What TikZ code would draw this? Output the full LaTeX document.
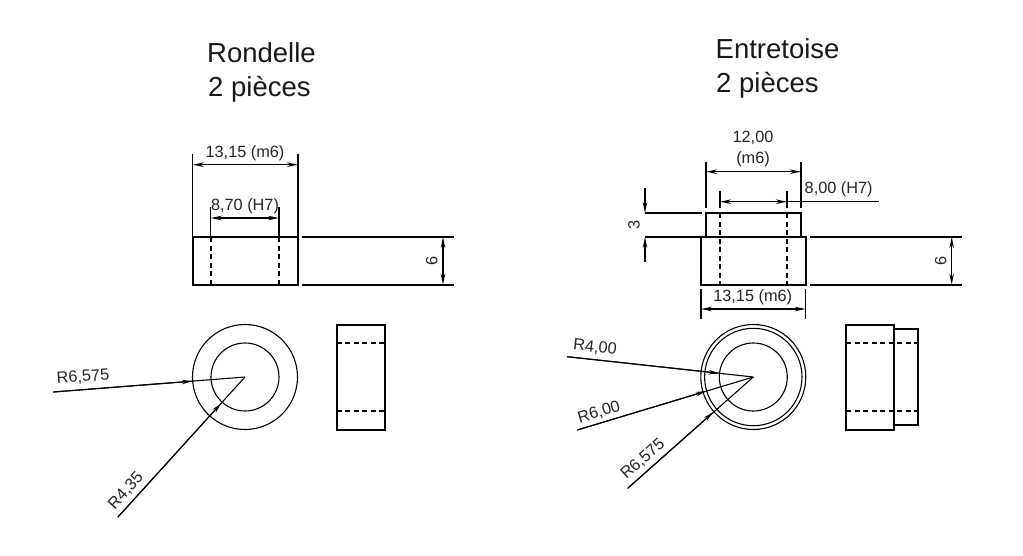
\documentclass[tikz,border=0pt]{standalone}
\usepackage{fontspec}
\setmainfont{Liberation Sans}
\usetikzlibrary{arrows.meta}
\tikzset{
  part/.style={line width=1.7pt,black},
  ext/.style={line width=1.5pt,black},
  hidden/.style={line width=1.6pt,black,dash pattern=on 5pt off 3.5pt},
  dimline/.style={line width=1.5pt,black,{Stealth[length=11pt,width=4.5pt]}-{Stealth[length=11pt,width=4.5pt]}},
  onetip/.style={line width=1.5pt,black,-{Stealth[length=11pt,width=4.5pt]}},
  leader/.style={line width=1.1pt,black},
  leadertip/.style={line width=1.1pt,black,-{Stealth[length=11pt,width=4.5pt]}},
  circ/.style={line width=1.1pt,black},
  title/.style={font=\fontsize{27.5}{27.5}\selectfont,anchor=west,inner sep=0pt,text=black!90},
  dimtext/.style={font=\fontsize{16.3}{16.3}\selectfont,inner sep=0pt,text=black!85}
}
\begin{document}
\begin{tikzpicture}[x=1pt,y=-1pt]
\useasboundingbox[fill=white] (0,0) rectangle (1023,555);

% titles
\node[title] (t1) at (207,53) {Rondelle};
\node[title] (t2) at (208,89) {2 pièces};
\node[title] (t3) at (715.5,49) {Entretoise};
\node[title] (t4) at (716,85) {2 pièces};

% ---------- Rondelle, section
\draw[part] (192.7,237) rectangle (298,284.7);
\draw[ext] (192.7,154) -- (192.7,237);
\draw[ext] (298,154) -- (298,237);
\draw[dimline] (192.7,164.7) -- (298,164.7);
\node[dimtext] (a1) at (245,153) {13,15 (m6)};
\draw[ext] (210.7,206.7) -- (210.7,237);
\draw[ext] (279,206.7) -- (279,237);
\draw[hidden] (210.7,237) -- (210.7,284.7);
\draw[hidden] (279,237) -- (279,284.7);
\draw[dimline] (210.7,218) -- (279,218);
\node[dimtext] (a2) at (245,206) {8,70 (H7)};
\draw[part] (302,237) -- (453.7,237);
\draw[part] (302,284.7) -- (453.7,284.7);
\draw[dimline] (443,237) -- (443,284.7);
\node[dimtext,rotate=90] (a3) at (431.7,260.7) {6};

% ---------- Rondelle, face
\coordinate (c1) at (245,377);
\draw[circ] (c1) circle (52.5pt);
\draw[circ] (c1) circle (34pt);
\coordinate (l1) at (53.3,392);
\coordinate (l1t) at (192.7,381.2);
\draw[leader] (l1) -- (c1);
\draw[leadertip] (l1) -- (l1t);
\node[dimtext,rotate=4.5] (a4) at (83,377) {R6,575};
\coordinate (l2) at (118,517);
\coordinate (l2t) at (221.5,403);
\draw[leader] (l2) -- (c1);
\draw[leadertip] (l2) -- (l2t);
\node[dimtext,rotate=47.8] (a5) at (126,491) {R4,35};

% ---------- Rondelle, side
\draw[part] (336.7,324.7) rectangle (385,429.7);
\draw[hidden] (336.7,343) -- (385,343);
\draw[hidden] (336.7,410.7) -- (385,410.7);

% ---------- Entretoise, section
\draw[part] (706,237) -- (706,213) -- (801,213) -- (801,237);
\draw[part] (701,237) rectangle (805.7,284.7);
\draw[ext] (706,161.7) -- (706,208);
\draw[ext] (801,161.7) -- (801,208);
\draw[dimline] (706,171.7) -- (801,171.7);
\node[dimtext] (b1) at (753,138) {12,00};
\node[dimtext] (b2) at (753,159) {(m6)};
\draw[ext] (720,191) -- (720,208);
\draw[ext] (787,191) -- (787,208);
\draw[hidden] (720,213) -- (720,284.7);
\draw[hidden] (787,213) -- (787,284.7);
\coordinate (d8) at (878.7,201.7);
\draw[dimline] (720,201.7) -- (787,201.7);
\draw[ext] (787,201.7) -- (d8);
\node[dimtext] (b3) at (838.7,189) {8,00 (H7)};

\draw[part] (645,213) -- (701.7,213);
\draw[part] (645,237) -- (701,237);
\draw[onetip] (645,188.3) -- (645,213);
\draw[onetip] (645,261.7) -- (645,237);
\node[dimtext,rotate=90] (b4) at (634,225) {3};

\draw[part] (810,237) -- (962,237);
\draw[part] (810,284.7) -- (962,284.7);
\draw[dimline] (951.7,237) -- (951.7,284.7);
\node[dimtext,rotate=90] (b5) at (940.7,261) {6};

\draw[ext] (701,289.3) -- (701,319.3);
\draw[ext] (805.7,289.3) -- (805.7,319.3);
\draw[dimline] (701,309) -- (805.7,309);
\node[dimtext] (b6) at (752.7,297) {13,15 (m6)};

% ---------- Entretoise, face
\coordinate (c2) at (753.3,377);
\draw[circ] (c2) circle (52.5pt);
\draw[circ] (c2) circle (48.7pt);
\draw[circ] (c2) circle (34pt);
\coordinate (m1) at (567.3,356.7);
\coordinate (m1t) at (719.5,373.3);
\draw[leader] (m1) -- (c2);
\draw[leadertip] (m1) -- (m1t);
\node[dimtext,rotate=-6] (b7) at (595,347.5) {R4,00};
\coordinate (m2) at (577.3,430);
\coordinate (m2t) at (706.5,391);
\draw[leader] (m2) -- (c2);
\draw[leadertip] (m2) -- (m2t);
\node[dimtext,rotate=16.8] (b8) at (599,412.5) {R6,00};
\coordinate (m3) at (627.7,488.3);
\coordinate (m3t) at (713.5,412);
\draw[leader] (m3) -- (c2);
\draw[leadertip] (m3) -- (m3t);
\node[dimtext,rotate=41.4] (b9) at (643,459) {R6,575};

% ---------- Entretoise, side
\draw[part] (846,324.7) rectangle (894,429.7);
\draw[part] (894,329) -- (918.3,329) -- (918.3,425) -- (894,425);
\draw[hidden] (846,343) -- (918.3,343);
\draw[hidden] (846,410.7) -- (918.3,410.7);
\end{tikzpicture}
\end{document}
